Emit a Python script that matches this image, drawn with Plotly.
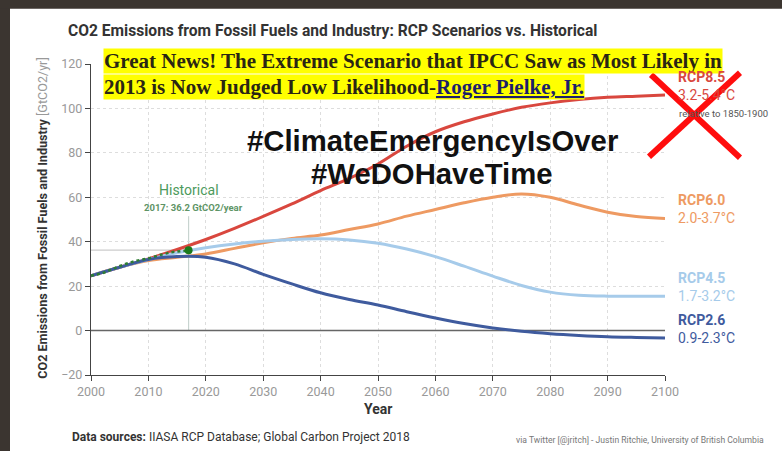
import plotly.graph_objects as go

# ---------------- data ----------------
years = [2000, 2005, 2010, 2015, 2020, 2025, 2030, 2035, 2040, 2045, 2050,
         2055, 2060, 2065, 2070, 2075, 2080, 2085, 2090, 2095, 2100]
rcp85 = [24.7, 28.5, 32.3, 36.5, 41.0, 46.0, 51.4, 57.0, 63.0, 68.5, 75.0,
         83.0, 89.5, 94.0, 97.5, 100.5, 102.5, 104.0, 105.0, 105.5, 106.0]
rcp60 = [24.7, 28.5, 31.5, 33.0, 34.5, 37.0, 39.5, 41.5, 43.0, 45.5, 48.0,
         51.5, 54.5, 57.5, 60.0, 61.5, 60.0, 56.5, 53.3, 51.3, 50.5]
rcp45 = [24.7, 28.5, 32.0, 35.0, 37.3, 39.0, 40.2, 41.0, 41.3, 40.8, 39.3,
         36.7, 33.3, 29.0, 24.5, 20.3, 17.3, 15.9, 15.5, 15.5, 15.5]
rcp26 = [24.7, 28.5, 32.0, 33.3, 33.0, 30.0, 25.3, 21.0, 17.0, 14.0, 11.5,
         8.5, 5.7, 3.2, 1.2, -0.3, -1.4, -2.2, -2.8, -3.1, -3.3]
hist_years = [2000, 2002, 2004, 2006, 2008, 2010, 2012, 2014, 2016, 2017]
hist_vals = [24.7, 25.8, 28.0, 30.0, 31.5, 32.5, 34.0, 35.3, 35.8, 36.2]
hist_year = 2017
hist_value = 36.2

scen_names = ["RCP8.5", "RCP6.0", "RCP4.5", "RCP2.6"]
scen_ranges = ["3.2-5.4°C", "2.0-3.7°C", "1.7-3.2°C", "0.9-2.3°C"]
scen_values = [rcp85, rcp60, rcp45, rcp26]
scen_colors = ["#d9473e", "#ee9a62", "#a6cbea", "#3f5b9e"]

x_ticks = list(range(2000, 2101, 10))
y_ticks = list(range(-20, 121, 20))

# ---------------- geometry helpers (pixel -> paper) ----------------
W, H = 782, 451
L, R, T, B = 91, 665, 64.2, 375.3


def px(x):
    return (x - L) / (R - L)


def py(y):
    return (B - y) / (B - T)


fig = go.Figure()

# zero reference line (drawn above grid, below data)
fig.add_trace(go.Scatter(x=[x_ticks[0], x_ticks[-1]], y=[0, 0], mode="lines",
                         line=dict(color="#666666", width=1.5), hoverinfo="skip",
                         name="zero"))

for name, vals, col in zip(scen_names, scen_values, scen_colors):
    fig.add_trace(go.Scatter(x=years, y=vals, mode="lines", name=name,
                             line=dict(color=col, width=3, shape="spline"),
                             hoverinfo="x+y+name"))

fig.add_trace(go.Scatter(x=hist_years, y=hist_vals, mode="lines", name="Historical",
                         line=dict(color="#2e7d32", width=2.5, dash="dot")))
fig.add_trace(go.Scatter(x=[hist_year], y=[hist_value], mode="markers",
                         marker=dict(color="#1b7a1b", size=8), name="2017"))

shapes = []
# historical guide lines
shapes.append(dict(type="line", xref="x", yref="y", x0=x_ticks[0], x1=hist_year,
                   y0=hist_value, y1=hist_value, line=dict(color="#cccccc", width=1.2),
                   layer="below"))
shapes.append(dict(type="line", xref="x", yref="y", x0=hist_year, x1=hist_year,
                   y0=0, y1=51.5, line=dict(color="#c8d4d0", width=1.2), layer="below"))
# frame borders of the screenshot
shapes.append(dict(type="rect", xref="paper", yref="paper", x0=px(-5), x1=px(10),
                   y0=py(460), y1=py(-5), fillcolor="#3b3530", line=dict(width=0)))
shapes.append(dict(type="rect", xref="paper", yref="paper", x0=px(-5), x1=px(790),
                   y0=py(9), y1=py(-5), fillcolor="#3b3530", line=dict(width=0)))
# red X
shapes.append(dict(type="line", xref="paper", yref="paper", x0=px(651), y0=py(75),
                   x1=px(740), y1=py(158), line=dict(color="#ff0d0d", width=6)))
shapes.append(dict(type="line", xref="paper", yref="paper", x0=px(740), y0=py(73),
                   x1=px(649), y1=py(157), line=dict(color="#ff0d0d", width=6)))

ann = []
FONT = "Roboto"
# title
ann.append(dict(x=px(66), y=py(31), xref="paper", yref="paper", xanchor="left",
                yanchor="middle", showarrow=False,
                text="<b>CO2 Emissions from Fossil Fuels and Industry: RCP Scenarios vs. Historical</b>",
                font=dict(family=FONT, size=15.6, color="#333333")))
# yellow headline
ann.append(dict(x=px(103), y=py(61), xref="paper", yref="paper", xanchor="left",
                yanchor="middle", showarrow=False, bgcolor="#ffff00", borderpad=0,
                text="<b>Great News! The Extreme Scenario that IPCC Saw as Most Likely in</b>",
                font=dict(family="Liberation Serif", size=21, color="#2a2614")))
ann.append(dict(x=px(103), y=py(87), xref="paper", yref="paper", xanchor="left",
                yanchor="middle", showarrow=False, bgcolor="#ffff00", borderpad=0,
                text="<b>2013 is Now Judged Low Likelihood-<span style='color:#1c1f6b'><u>Roger Pielke, Jr.</u></span></b>",
                font=dict(family="Liberation Serif", size=21, color="#2a2614")))
# hashtags
ann.append(dict(x=px(432), y=py(141), xref="paper", yref="paper", xanchor="center",
                yanchor="middle", showarrow=False, text="<b>#ClimateEmergencyIsOver</b>",
                font=dict(family="Liberation Sans", size=29.3, color="#111111")))
ann.append(dict(x=px(432), y=py(174), xref="paper", yref="paper", xanchor="center",
                yanchor="middle", showarrow=False, text="<b>#WeDOHaveTime</b>",
                font=dict(family="Liberation Sans", size=29.3, color="#111111")))
# historical label
ann.append(dict(x=hist_year, y=py(190), xref="x", yref="paper", xanchor="center",
                yanchor="middle", showarrow=False, text="Historical",
                font=dict(family=FONT, size=14, color="#4c9a5c")))
ann.append(dict(x=hist_year + 0.8, y=py(207.5), xref="x", yref="paper", xanchor="center",
                yanchor="middle", showarrow=False, text="<b>2017: 36.2 GtCO2/year</b>",
                font=dict(family=FONT, size=9.5, color="#5e9466")))
# scenario labels at line ends
for name, rng, vals, col in zip(scen_names, scen_ranges, scen_values, scen_colors):
    end_y = vals[-1]
    ann.append(dict(x=px(676), y=end_y, xref="paper", yref="y", xanchor="left",
                    yanchor="bottom", yshift=8, showarrow=False, text="<b>" + name + "</b>",
                    font=dict(family=FONT, size=14, color=col)))
    ann.append(dict(x=px(676), y=end_y, xref="paper", yref="y", xanchor="left",
                    yanchor="middle", showarrow=False, text=rng,
                    font=dict(family=FONT, size=14, color=col)))
ann.append(dict(x=px(677), y=py(113.5), xref="paper", yref="paper", xanchor="left",
                yanchor="middle", showarrow=False, text="relative to 1850-1900",
                font=dict(family=FONT, size=9.5, color="#555555")))
# axis titles
ann.append(dict(x=px(43), y=py(219), xref="paper", yref="paper", xanchor="center",
                yanchor="middle", showarrow=False, textangle=-90,
                text="<b>CO2 Emissions from Fossil Fuels and Industry</b> <span style='color:#999999'>[GtCO2/yr]</span>",
                font=dict(family=FONT, size=12.6, color="#333333")))
ann.append(dict(x=px(378), y=py(409), xref="paper", yref="paper", xanchor="center",
                yanchor="middle", showarrow=False, text="<b>Year</b>",
                font=dict(family=FONT, size=14, color="#333333")))
# footer
ann.append(dict(x=px(70), y=py(437), xref="paper", yref="paper", xanchor="left",
                yanchor="middle", showarrow=False,
                text="<b>Data sources:</b> IIASA RCP Database; Global Carbon Project 2018",
                font=dict(family=FONT, size=12, color="#333333")))
ann.append(dict(x=px(766), y=py(440), xref="paper", yref="paper", xanchor="right",
                yanchor="middle", showarrow=False,
                text="via Twitter [@jritch] - Justin Ritchie, University of British Columbia",
                font=dict(family=FONT, size=8.6, color="#777777")))

axis_common = dict(showgrid=True, gridcolor="#dddddd", griddash="dot", gridwidth=1,
                   showline=True, linecolor="#444444", linewidth=1.2,
                   ticks="outside", ticklen=5, tickcolor="#444444",
                   tickfont=dict(family=FONT, size=12.5, color="#999999"),
                   zeroline=False, fixedrange=True, automargin=False)

fig.update_layout(
    template="none",
    width=W, height=H,
    margin=dict(l=L, r=W - R, t=T, b=H - B, autoexpand=False),
    paper_bgcolor="white", plot_bgcolor="white",
    showlegend=False,
    shapes=shapes, annotations=ann,
    xaxis=dict(range=[x_ticks[0], x_ticks[-1]], tickvals=x_ticks, **axis_common),
    yaxis=dict(range=[y_ticks[0], y_ticks[-1]], tickvals=y_ticks, **axis_common),
)

fig.write_html("out.html", config={"displayModeBar": False},
               post_script="document.body.style.margin='0';document.body.style.overflow='hidden';")
